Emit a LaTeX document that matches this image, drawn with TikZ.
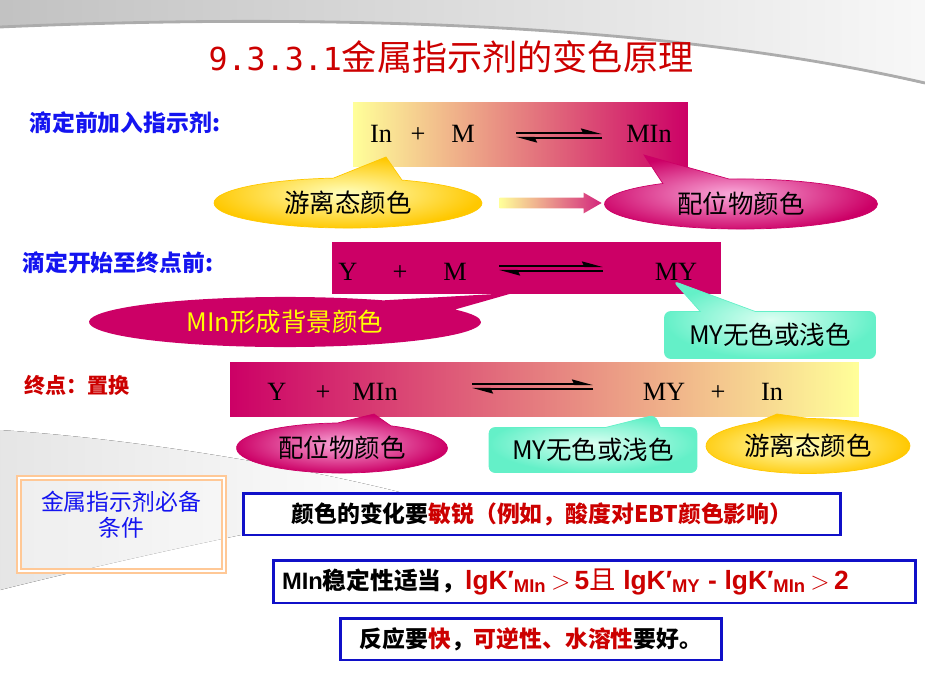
\documentclass[tikz,border=0pt]{standalone}
\usepackage{fontspec}
\setmainfont{Liberation Serif}
\setsansfont{Liberation Sans}
\newfontfamily\cjk{Noto Sans CJK SC}
\newfontfamily\digitfont{DejaVu Sans Mono}
\usetikzlibrary{shapes.callouts,shapes.arrows,arrows.meta,positioning}

\definecolor{crim}{RGB}{204,0,102}
\definecolor{lyel}{RGB}{255,255,153}
\definecolor{peach}{RGB}{242,180,135}
\definecolor{tred}{RGB}{204,0,0}
\definecolor{labblue}{RGB}{20,20,240}
\definecolor{boxblue}{RGB}{16,16,200}
\definecolor{yelin}{RGB}{255,255,190}
\definecolor{yelout}{RGB}{255,200,0}
\definecolor{pinkin}{RGB}{250,170,218}
\definecolor{tealin}{RGB}{220,255,242}
\definecolor{tealout}{RGB}{100,240,200}
\definecolor{orbox}{RGB}{255,200,150}

\begin{document}
\begin{tikzpicture}[x=0.02cm,y=-0.02cm,
    lab/.style={anchor=west, inner sep=0pt, font=\cjk\bfseries\fontsize{13}{15}\selectfont},
    chem/.style={anchor=base, inner sep=0pt, font=\fontsize{15}{18}\selectfont},
    eqtop/.style={line width=1.2pt, -{Stealth[left,length=0.34cm,width=0.18cm,inset=0.04cm]}},
    band/.style={inner sep=0pt},
    callfont/.style={font=\cjk\fontsize{14.5}{16}\selectfont},
    yelcall/.style={ellipse callout, callfont, draw=yelout, callout pointer arc=30,
        shading=radial, inner color=yelin, outer color=yelout},
    pinkcall/.style={ellipse callout, callfont, draw=crim, callout pointer arc=30,
        shading=radial, inner color=pinkin, outer color=crim},
    tealcall/.style={rectangle callout, callfont, rounded corners=0.12cm, draw=tealout,
        callout pointer width=1.1cm, shading=radial, inner color=tealin, outer color=tealout},
    condbox/.style={draw=boxblue, line width=1.7pt, fill=white, inner sep=0pt,
        font=\cjk\bfseries\fontsize{13}{15}\selectfont}
  ]
  \useasboundingbox (0,0) rectangle (925,682);

  % background
  \fill[left color=gray!48, right color=gray!6] (0,0) -- (925,0) -- (925,84)
    .. controls (650,20) and (300,14) .. (0,27) -- cycle;
  \draw[gray!65, line width=1.6pt] (925,83) .. controls (650,20) and (300,14) .. (0,27);
  \fill[left color=gray!20, right color=white] (0,430) .. controls (150,440) and (320,470) .. (430,500)
    .. controls (300,520) and (120,560) .. (0,590) -- cycle;

  % title
  \node[text=tred] (title) at (451,57) {{\digitfont\fontsize{18}{20}\selectfont 9.3.3.1}{\cjk\fontsize{20}{22}\selectfont 金属指示剂的变色原理}};

  % row 1
  \node[lab, text=labblue] (lab1) at (29,123) {滴定前加入指示剂:};
  \node[band, minimum width=6.7cm, minimum height=1.3cm, left color=lyel, middle color=peach, right color=crim] (r1) at (520.5,134.5) {};
  \node[chem] (in1) at (381,143) {In};
  \node[chem] (pl1) at (418,143) {+};
  \node[chem] (m1) at (463,143) {M};
  \node[chem] (min1) at (649,143) {MIn};
  \draw[eqtop] (516,133) coordinate (e1a) -- (602,133) coordinate (e1b);
  \draw[eqtop] (602,138) coordinate (e1c) -- (516,138) coordinate (e1d);

  \node[yelcall, minimum width=5.36cm, minimum height=1.0cm, callout absolute pointer={(386,157)}] (free1) at (348,203) {游离态颜色};
  \node[pinkcall, minimum width=5.46cm, minimum height=0.96cm, callout absolute pointer={(644,155)}] (cplx1) at (741,204) {配位物颜色};
  \node[single arrow, inner sep=0.1cm, minimum height=2.04cm, single arrow head extend=0.1cm,
    single arrow tip angle=60, left color=lyel, right color=crim!85] (go) at (546,203) {};

  % row 2
  \node[lab, text=labblue] (lab2) at (22,263) {滴定开始至终点前:};
  \node[band, minimum width=7.78cm, minimum height=1.04cm, fill=crim] (r2) at (526.5,268) {};
  \node[chem] (y2) at (348,280) {Y};
  \node[chem] (pl2) at (400,280) {+};
  \node[chem] (m2) at (455,280) {M};
  \node[chem] (my2) at (676,280) {MY};
  \draw[eqtop] (499,266) coordinate (e2a) -- (603,266) coordinate (e2b);
  \draw[eqtop] (603,271) coordinate (e2c) -- (499,271) coordinate (e2d);

  \node[ellipse callout, callfont, fill=crim, text={rgb,255:red,255;green,255;blue,0}, callout pointer arc=30,
    minimum width=7.84cm, minimum height=1.0cm, callout absolute pointer={(513,293)}] (back) at (285,322) {MIn形成背景颜色};
  \node[tealcall, minimum width=4.22cm, minimum height=0.94cm, callout absolute pointer={(673,281)}] (myc2) at (770,335) {MY无色或浅色};

  % row 3
  \node[lab, text=tred, font=\cjk\bfseries\fontsize{12}{14}\selectfont] (lab3) at (24,385) {终点：置换};
  \node[band, minimum width=12.58cm, minimum height=1.1cm, left color=crim, middle color=peach, right color=lyel] (r3) at (544.5,389.5) {};
  \node[chem] (y3) at (277,400) {Y};
  \node[chem] (pl3) at (323,400) {+};
  \node[chem] (min3) at (375,400) {MIn};
  \node[chem] (my3) at (664,400) {MY};
  \node[chem] (pl3b) at (718,400) {+};
  \node[chem] (in3) at (772,400) {In};
  \draw[eqtop] (472,384) coordinate (e3a) -- (593,384) coordinate (e3b);
  \draw[eqtop] (593,389) coordinate (e3c) -- (472,389) coordinate (e3d);

  \node[pinkcall, minimum width=4.22cm, minimum height=1.0cm, callout absolute pointer={(374,414)}] (cplx3) at (342,448) {配位物颜色};
  \node[tealcall, minimum width=4.16cm, minimum height=0.9cm, callout absolute pointer={(655,415)}] (myc3) at (593,450) {MY无色或浅色};
  \node[yelcall, minimum width=4.08cm, minimum height=1.1cm, callout absolute pointer={(777,414)}] (free3) at (808,446) {游离态颜色};

  % conditions
  \node[draw=orbox, double=white, double distance=1.2pt, line width=1.1pt, fill=white, fill opacity=0.35,
    minimum width=4.1cm, minimum height=1.86cm] (need) at (121.5,524.5) {};
  \node[text=labblue, align=center, font=\cjk\fontsize{13}{14.7}\selectfont] (needt) at (121,515) {金属指示剂必备\\条件};

  \node[condbox, minimum width=11.96cm, minimum height=0.84cm] (c1) at (542,514)
    {颜色的变化要\textcolor{tred}{敏锐（例如，酸度对EBT颜色影响）}};
  \node[condbox, text width=12.5cm, inner xsep=0.18cm, align=left, minimum height=0.86cm] (c2) at (594.5,581.5)
    {\sffamily\fontsize{13.5}{16}\selectfont MIn{\cjk 稳定性适当，}\textcolor{tred}{\fontsize{15}{18}\selectfont lgK′\textsubscript{MIn}\,$>$\,5{\cjk\mdseries 且} lgK′\textsubscript{MY} - lgK′\textsubscript{MIn}\,$>$\,2}};
  \node[condbox, minimum width=7.64cm, minimum height=0.84cm] (c3) at (531,639)
    {反应要\textcolor{tred}{快}，\textcolor{tred}{可逆性、水溶性}要好。};
\end{tikzpicture}
\end{document}
